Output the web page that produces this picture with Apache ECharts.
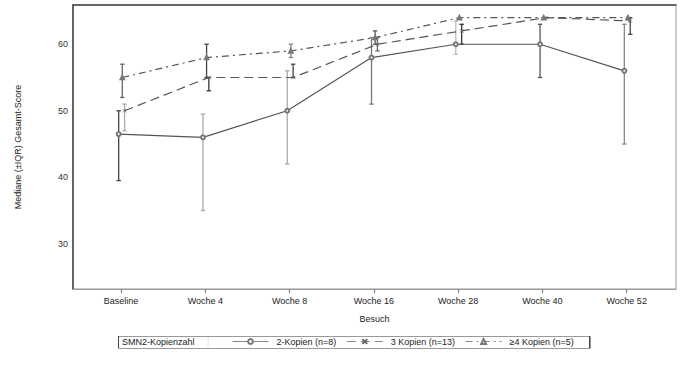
<!DOCTYPE html>
<html>
<head>
<meta charset="utf-8">
<script src="https://cdn.jsdelivr.net/npm/echarts@6/dist/echarts.min.js"></script>
<style>html,body{margin:0;padding:0;background:#fff;}#c{width:680px;height:366px;}</style>
</head>
<body>
<div id="c"></div>
<script>
const categories = ['Baseline', 'Woche 4', 'Woche 8', 'Woche 16', 'Woche 28', 'Woche 40', 'Woche 52'];
const yTicks = [30, 40, 50, 60];
const seriesNames = ['2-Kopien (n=8)', '3 Kopien (n=13)', '\u22654 Kopien (n=5)'];

const median2 = [46.5, 46, 50, 58, 60, 60, 56];
const q1_2 = [39.5, 35, 42, 51, 58.5, 55, 45];
const q3_2 = [50, 49.5, 56, 61, 63.5, 63, 63];

const median3 = [50, 55, 55, 60, 62, 64, 63.5];
const q1_3 = [47, 53, 55, 59, 60, 64, 61.5];
const q3_3 = [51, 55, 57, 61, 63, 64, 64];

const median4 = [55, 58, 59, 61, 64, 64, 64];
const q1_4 = [52, 55, 58, 60, 64, 64, 64];
const q3_4 = [57, 60, 60, 62, 64, 64, 64];

// styling (not data)
const shade2 = ['#444', '#aaa', '#aaa', '#777', '#bbb', '#555', '#888'];
const shade3 = ['#aaa', '#333', '#444', '#666', '#333', '#444', '#444'];
const shade4 = ['#666', '#444', '#888', '#555', '#777', '#777', '#777'];
const dodge = [-0.028, 0.042, 0.015];

const X_PATH = 'path://M0,0L10,10M10,0L0,10';

function pts(med, off) { return med.map((v, i) => [i + off, v]); }
function errs(lo, hi, off) { return lo.map((v, i) => [i + off, v, hi[i]]); }

function errSeries(lo, hi, off, shades) {
  return {
    type: 'custom',
    silent: true,
    z: 1,
    data: errs(lo, hi, off),
    renderItem: function (params, api) {
      const x = api.value(0), l = api.value(1), h = api.value(2);
      if (h - l < 0.01) return null;
      const p1 = api.coord([x, l]);
      const p2 = api.coord([x, h]);
      const col = shades[params.dataIndex];
      const st = { stroke: col, lineWidth: 1.3 };
      const cw = 2.2;
      return {
        type: 'group',
        children: [
          { type: 'line', shape: { x1: p1[0], y1: p1[1], x2: p2[0], y2: p2[1] }, style: st },
          { type: 'line', shape: { x1: p1[0] - cw, y1: p1[1], x2: p1[0] + cw, y2: p1[1] }, style: st },
          { type: 'line', shape: { x1: p2[0] - cw, y1: p2[1], x2: p2[0] + cw, y2: p2[1] }, style: st }
        ]
      };
    }
  };
}

const chart = echarts.init(document.getElementById('c'), null, { renderer: 'svg' });
const font = 'Liberation Sans, Arial, sans-serif';

chart.setOption({
  animation: false,
  backgroundColor: '#fff',
  textStyle: { fontFamily: font },
  grid: { left: 73, right: 4, top: 5, bottom: 77, show: true, borderColor: '#999', borderWidth: 1 },
  xAxis: [{
    type: 'value',
    min: -0.57, max: 6.585,
    name: 'Besuch', nameLocation: 'middle', nameGap: 25,
    nameTextStyle: { fontSize: 9, color: '#222', fontFamily: font },
    axisLine: { show: true, onZero: false, lineStyle: { color: '#999', width: 1 } },
    axisTick: { show: true, customValues: [0, 1, 2, 3, 4, 5, 6], length: 4, lineStyle: { color: '#777' } },
    axisLabel: { customValues: [0, 1, 2, 3, 4, 5, 6], formatter: v => categories[Math.round(v)], fontSize: 9, color: '#222', margin: 7, fontFamily: font },
    splitLine: { show: false }
  }, {
    type: 'value', position: 'top',
    min: -0.57, max: 6.585,
    axisLine: { show: true, onZero: false, lineStyle: { color: '#444', width: 1.5 } },
    axisTick: { show: false }, axisLabel: { show: false }, splitLine: { show: false }
  }],
  yAxis: {
    type: 'value',
    min: 23.2, max: 65.9,
    name: 'Mediane (\u00b1IQR) Gesamt-Score', nameLocation: 'middle', nameGap: 51,
    nameTextStyle: { fontSize: 9, color: '#222', fontFamily: font },
    axisLine: { show: true, onZero: false, lineStyle: { color: '#444', width: 1.5 } },
    axisTick: { show: false },
    axisLabel: { customValues: yTicks, fontSize: 9, color: '#333', margin: 5, fontFamily: font },
    splitLine: { show: false }
  },
  legend: {
    left: 232, top: 337, padding: 0,
    itemWidth: 36, itemHeight: 6, itemGap: 10,
    lineStyle: { width: 1, color: '#888' },
    textStyle: { fontSize: 9, color: '#222', fontFamily: font, padding: [0, 0, 0, 3] },
    data: seriesNames,
    selectedMode: false
  },
  graphic: [
    { type: 'rect', left: 118, top: 336, shape: { width: 472, height: 12 }, style: { fill: '#fff', stroke: '#999', lineWidth: 1 }, z: -1 },
    { type: 'line', shape: { x1: 118.5, y1: 336, x2: 118.5, y2: 348 }, style: { stroke: '#444', lineWidth: 1 } },
    { type: 'line', shape: { x1: 589.5, y1: 336, x2: 589.5, y2: 348 }, style: { stroke: '#444', lineWidth: 1 } },
    { type: 'line', shape: { x1: 208, y1: 337, x2: 208, y2: 347 }, style: { stroke: '#e4e4e4', lineWidth: 1 } },
    { type: 'text', left: 122, top: 337.5, style: { text: 'SMN2-Kopienzahl', fontSize: 9, fill: '#222', fontFamily: font } }
  ],
  series: [
    errSeries(q1_2, q3_2, dodge[0], shade2),
    errSeries(q1_3, q3_3, dodge[1], shade3),
    errSeries(q1_4, q3_4, dodge[2], shade4),
    {
      name: seriesNames[0], type: 'line', z: 3,
      data: pts(median2, dodge[0]),
      symbol: 'emptyCircle', symbolSize: 4,
      lineStyle: { color: '#555', width: 1.2, type: 'solid' },
      itemStyle: { color: '#777', borderColor: '#777', borderWidth: 0.8 }
    },
    {
      name: seriesNames[1], type: 'line', z: 3,
      data: pts(median3, dodge[1]),
      symbol: X_PATH, symbolSize: 3.5,
      lineStyle: { color: '#555', width: 1.2, type: [9, 5] },
      itemStyle: { color: '#666', borderColor: '#666', borderWidth: 0.8 }
    },
    {
      name: seriesNames[2], type: 'line', z: 3,
      data: pts(median4, dodge[2]),
      symbol: 'emptyTriangle', symbolSize: 3.5,
      lineStyle: { color: '#555', width: 1.2, type: [7, 4, 2, 4] },
      itemStyle: { color: '#777', borderColor: '#777', borderWidth: 0.8 }
    }
  ]
});
</script>
</body>
</html>
